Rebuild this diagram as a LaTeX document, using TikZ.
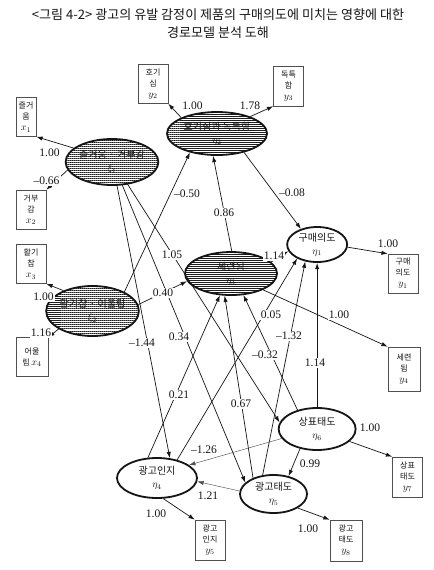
\documentclass[tikz,border=0pt]{standalone}
\usepackage{fontspec}
\setmainfont{Liberation Serif}
\newfontfamily\kr{Noto Sans CJK KR}
\usetikzlibrary{arrows.meta,shapes.geometric,patterns.meta}
\definecolor{pathink}{HTML}{151515}
\definecolor{pathbox}{HTML}{505050}
\definecolor{pathhatch}{HTML}{1E1E1E}
\newcommand\vname[1]{{\fontsize{10}{10}\selectfont$#1$}}

\begin{document}
\begin{tikzpicture}[
  font=\rmfamily,
  oval/.style={ellipse, draw=pathink, line width=1.8pt, inner sep=0pt, align=center,
    font=\kr\fontsize{10}{13}\selectfont, text=pathink},
  latent/.style={oval, fill=white},
  shaded/.style={oval, preaction={fill=white},
    pattern={Lines[angle=0,distance=2pt,line width=1pt]}, pattern color=pathhatch},
  indic/.style={draw=pathbox, line width=0.6pt, fill=white, inner sep=1pt, align=center,
    font=\kr\fontsize{8}{11}\selectfont, text=pathink, minimum width=1.05cm, minimum height=1.36cm},
  title/.style={font=\kr\fontsize{13}{15}\selectfont, text=pathink},
  measure/.style={draw=pathink, line width=0.7pt, -{Latex[length=2.2mm,width=1.5mm]}},
  effect/.style={draw=pathink, line width=0.7pt, -{Latex[length=2.2mm,width=1.5mm]}},
  faint/.style={draw=pathink!75, line width=0.45pt, -{Latex[length=2.2mm,width=1.5mm]}},
  coef/.style={fill=white, inner sep=1pt, font=\fontsize{11.5}{12}\selectfont, text=pathink},
]
\useasboundingbox (0,0) rectangle (15.155,-19.95);

% ===== title =====
\node[title] (t1) at (7.63,-0.525)
  {<그림 4-2> 광고의 유발 감정이 제품의 구매의도에 미치는 영향에 대한};
\node[title] (t2) at (7.63,-1.155) {경로모델 분석 도해};

% ===== latent variables =====
\node[shaded, minimum width=3.15cm, minimum height=1.61cm] (xi1) at (3.92,-5.67)
  {즐거움 · 거부감\\$\xi_1$};
\node[shaded, minimum width=3.5cm, minimum height=1.505cm] (eta2) at (7.595,-4.673)
  {호기심과 독특함\\$\eta_2$};
\node[shaded, minimum width=3.115cm, minimum height=1.75cm] (xi2) at (3.238,-10.885)
  {활기참 · 어울림\\$\xi_2$};
\node[shaded, minimum width=3.22cm, minimum height=1.505cm] (eta3) at (8.085,-9.573)
  {세련됨\\$\eta_3$};
\node[latent, minimum width=2.1cm, minimum height=1.225cm] (eta1) at (11.1,-8.558)
  {구매의도\\$\eta_1$};
\node[latent, minimum width=2.695cm, minimum height=1.47cm] (eta6) at (11.1,-15.015)
  {상표태도\\$\eta_6$};
\node[latent, minimum width=2.345cm, minimum height=1.33cm] (eta5) at (9.573,-17.29)
  {광고태도\\$\eta_5$};
\node[latent, minimum width=2.8cm, minimum height=1.4cm] (eta4) at (5.495,-16.73)
  {광고인지\\$\eta_4$};

% ===== indicators =====
\node[indic, minimum width=0.7cm] (x1) at (0.91,-4.095) {즐거\\움\\\vname{x_1}};
\node[indic] (x2) at (1.085,-7.333) {거부\\감\\\vname{x_2}};
\node[indic] (x3) at (1.085,-9.24) {활기\\참\\\vname{x_3}};
\node[indic, minimum width=1.12cm] (x4) at (1.12,-12.495) {어울\\림 \vname{x_4}};
\node[indic] (y2) at (5.355,-2.94) {호기\\심\\\vname{y_2}};
\node[indic, minimum height=1.4cm] (y3) at (10.098,-3.01) {독특\\함\\\vname{y_3}};
\node[indic] (y1) at (14.105,-9.573) {구매\\의도\\\vname{y_1}};
\node[indic, minimum width=1.12cm, minimum height=1.54cm] (y4) at (14.14,-12.915) {세련\\됨\\\vname{y_4}};
\node[indic, minimum height=1.4cm] (y7) at (14.263,-16.695) {상표\\태도\\\vname{y_7}};
\node[indic, minimum height=1.4cm] (y5) at (7.35,-18.9) {광고\\인지\\\vname{y_5}};
\node[indic, minimum width=1.12cm, minimum height=1.435cm] (y8) at (12.11,-18.918) {광고\\태도\\\vname{y_8}};

% ===== measurement arrows =====
\draw[measure] (xi1.160) -- (x1.south east);
\draw[measure] (xi1.190) -- (x2.north east);
\draw[measure] (xi2.145) -- (x3.south east);
\draw[measure] (xi2.208) -- (x4.north east);
\draw[measure] (eta2.156) -- (y2.south east);
\draw[measure] (eta2.27) -- (y3.south west);
\draw[measure] (eta1.-5) -- (y1.north west);
\draw[measure] (eta3.-27) -- (y4.north west);
\draw[measure] (eta6.-21) -- (y7.north west);
\draw[measure] (eta5.-30) -- (y8.north west);
\draw[measure] (eta4.-73) -- (y5.north west);

% ===== structural paths =====
\draw[effect] (xi2.31) -- (eta2.-145);
\draw[effect] (eta3.88) -- (eta2.-100);
\draw[effect] (eta2.-35) -- (eta1.136);
\draw[effect] (eta3.16) -- (eta1.193);
\draw[effect] (xi1.-78) -- (eta4.57);
\draw[effect] (xi1.-66) -- (eta5.158);
\draw[effect] (xi1.-55) -- (eta6.170);
\draw[effect] (xi2.8) -- (eta3.190);
\draw[effect] (eta4.114) -- (eta3.-117);
\draw[effect] (eta4.42) -- (eta1.-145);
\draw[effect] (eta5.142) -- (eta3.-106);
\draw[effect] (eta5.120) -- (eta1.-125);
\draw[effect] (eta6.136) -- (eta3.-60);
\draw[effect] (eta6.north) -- (eta1.south);
\draw[faint] (eta6.195) -- (eta4.22);
\draw[faint] (eta5.175) -- (eta4.-5);
\draw[effect] (eta6.-131) -- (eta5.50);

% ===== coefficients =====
\node[coef] (c-x1) at (1.733,-5.338) {1.00};
\node[coef] (c-x2) at (1.628,-6.335) {--0.66};
\node[coef] (c-x3) at (1.523,-10.395) {1.00};
\node[coef] (c-x4) at (1.435,-11.655) {1.16};
\node[coef] (c-y2) at (6.738,-3.71) {1.00};
\node[coef] (c-y3) at (8.75,-3.71) {1.78};
\node[coef] (c-y1) at (13.58,-8.54) {1.00};
\node[coef] (c-y4) at (11.865,-11.025) {1.00};
\node[coef] (c-y7) at (12.95,-14.98) {1.00};
\node[coef] (c-y8) at (10.78,-18.515) {1.00};
\node[coef] (c-y5) at (5.46,-17.99) {1.00};
\node[coef] (c-xi2e2) at (6.545,-6.79) {--0.50};
\node[coef] (c-e3e2) at (7.84,-7.455) {0.86};
\node[coef] (c-e2e1) at (10.22,-6.755) {--0.08};
\node[coef] (c-e3e1) at (9.59,-8.96) {1.14};
\node[coef] (c-xi1e4) at (4.97,-12.005) {--1.44};
\node[coef] (c-xi1e5) at (6.265,-11.795) {0.34};
\node[coef] (c-xi1e6) at (6.02,-8.925) {1.05};
\node[coef] (c-xi2e3) at (5.705,-10.255) {0.40};
\node[coef] (c-e4e3) at (6.265,-13.825) {0.21};
\node[coef] (c-e4e1) at (9.485,-11.025) {0.05};
\node[coef] (c-e5e3) at (8.435,-14.14) {0.67};
\node[coef] (c-e5e1) at (10.115,-11.76) {--1.32};
\node[coef] (c-e6e3) at (9.275,-12.425) {--0.32};
\node[coef] (c-e6e1) at (11.025,-12.705) {1.14};
\node[coef] (c-e6e4) at (7.14,-15.75) {--1.26};
\node[coef] (c-e5e4) at (7.28,-17.36) {1.21};
\node[coef] (c-e6e5) at (10.85,-16.24) {0.99};

\end{tikzpicture}
\end{document}
